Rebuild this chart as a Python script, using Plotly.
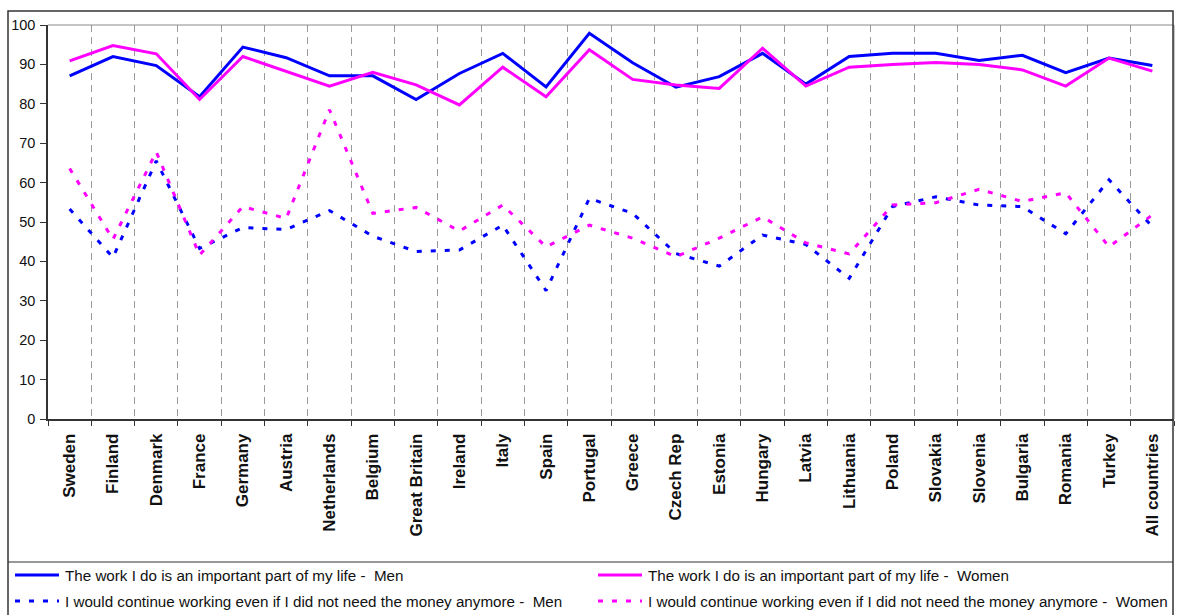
import plotly.graph_objects as go

# Countries along the category axis
countries = [
    "Sweden", "Finland", "Denmark", "France", "Germany", "Austria",
    "Netherlands", "Belgium", "Great Britain", "Ireland", "Italy", "Spain",
    "Portugal", "Greece", "Czech Rep", "Estonia", "Hungary", "Latvia",
    "Lithuania", "Poland", "Slovakia", "Slovenia", "Bulgaria", "Romania",
    "Turkey", "All countries",
]

# "The work I do is an important part of my life" (% agreeing)
important_men = [87.1, 92.0, 89.7, 81.8, 94.4, 91.7, 87.1, 87.1, 81.1, 87.7,
                 92.8, 84.3, 97.9, 90.4, 84.2, 86.9, 92.8, 85.0, 92.0, 92.8,
                 92.8, 91.0, 92.3, 87.9, 91.6, 89.7]
important_women = [90.9, 94.8, 92.7, 81.1, 92.0, 88.2, 84.5, 88.0, 84.8, 79.7,
                   89.3, 81.8, 93.7, 86.2, 84.8, 83.9, 94.1, 84.5, 89.3, 90.0,
                   90.5, 90.0, 88.6, 84.5, 91.6, 88.3]

# "I would continue working even if I did not need the money anymore" (%)
continue_men = [53.3, 41.0, 65.5, 43.3, 48.6, 48.1, 52.9, 46.4, 42.5, 42.9,
                49.2, 32.6, 56.0, 52.2, 42.0, 38.8, 46.7, 44.3, 35.7, 53.9,
                56.4, 54.3, 53.9, 47.0, 60.7, 48.8]
continue_women = [63.6, 45.6, 67.8, 41.6, 53.9, 50.9, 78.5, 52.2, 53.7, 47.7,
                  54.3, 43.7, 49.2, 45.9, 41.2, 45.9, 51.3, 44.7, 41.9, 54.3,
                  54.9, 58.3, 55.2, 57.4, 43.7, 51.8]

y_ticks = list(range(0, 101, 10))

BLUE = "#0000FF"
MAGENTA = "#FF00FF"
DOTS = "5px,9px"

series = [
    ("The work I do is an important part of my life -  Men", important_men, BLUE, "solid"),
    ("The work I do is an important part of my life -  Women", important_women, MAGENTA, "solid"),
    ("I would continue working even if I did not need the money anymore -  Men", continue_men, BLUE, DOTS),
    ("I would continue working even if I did not need the money anymore -  Women", continue_women, MAGENTA, DOTS),
]

fig = go.Figure()
for name, values, color, dash in series:
    fig.add_trace(go.Scatter(
        x=countries, y=values, name=name, mode="lines",
        line=dict(color=color, width=3, dash=dash),
        hoverinfo="x+y+name", showlegend=False,
    ))

W, H = 1180, 615
ML, MR, MT, MB = 48, 6, 25, 196
PW, PH = W - ML - MR, H - MT - MB


def px_x(px):
    return (px - ML) / PW


def px_y(py):
    return (H - MB - py) / PH


shapes = [
    # plot-area border (top and right)
    dict(type="line", xref="paper", yref="paper", x0=0, x1=1, y0=1, y1=1,
         line=dict(color="#8a8a8a", width=1)),
    dict(type="line", xref="paper", yref="paper", x0=1, x1=1, y0=0, y1=1,
         line=dict(color="#8a8a8a", width=1)),
    # outer chart frame
    dict(type="rect", xref="paper", yref="paper",
         x0=px_x(8), x1=px_x(1173), y0=px_y(640), y1=px_y(11),
         line=dict(color="#333", width=1.5)),
    # legend box top edge
    dict(type="line", xref="paper", yref="paper",
         x0=px_x(8), x1=px_x(1173), y0=px_y(562), y1=px_y(562),
         line=dict(color="#333", width=1.2)),
]
annotations = []

# Legend: two columns (men / women), two rows (statement)
legend_cols = [15, 598]
legend_rows = [575, 601]
for i, (name, _, color, dash) in enumerate(series):
    cx = legend_cols[i % 2]
    ry = legend_rows[i // 2]
    shapes.append(dict(type="line", xref="paper", yref="paper",
                       x0=px_x(cx), x1=px_x(cx + 44), y0=px_y(ry), y1=px_y(ry),
                       line=dict(color=color, width=3, dash=dash)))
    annotations.append(dict(xref="paper", yref="paper", x=px_x(cx + 48), y=px_y(ry),
                            xanchor="left", yanchor="middle", showarrow=False,
                            text=name,
                            font=dict(family="Liberation Sans, Arial, sans-serif",
                                      size=15.2, color="#111")))

fig.update_layout(
    width=W, height=H, autosize=False,
    margin=dict(l=ML, r=MR, t=MT, b=MB, pad=0),
    paper_bgcolor="white", plot_bgcolor="white",
    font=dict(family="Liberation Sans, Arial, sans-serif", color="#111"),
    showlegend=False,
    xaxis=dict(
        type="category", range=[-0.5, len(countries) - 0.5],
        tickson="boundaries", ticks="outside", ticklen=5, tickwidth=1, tickcolor="#333",
        showgrid=True, gridcolor="#9a9a9a", gridwidth=1, griddash="7px,5px",
        showline=True, linecolor="#333", linewidth=1.5,
        tickangle=-90, automargin=False, ticklabelstandoff=6,
        tickfont=dict(family="Liberation Sans, Arial, sans-serif", size=17, color="#111",
                      weight="bold"),
        fixedrange=True,
    ),
    yaxis=dict(
        range=[0, 100], tickvals=y_ticks, ticks="outside", ticklen=6, tickwidth=1,
        tickcolor="#333", showgrid=False, zeroline=False,
        showline=True, linecolor="#333", linewidth=1.5, automargin=False,
        tickfont=dict(family="Liberation Sans, Arial, sans-serif", size=14.5, color="#111"),
        ticklabelstandoff=2, fixedrange=True,
    ),
    shapes=shapes,
    annotations=annotations,
)

fig.write_html("out.html")
